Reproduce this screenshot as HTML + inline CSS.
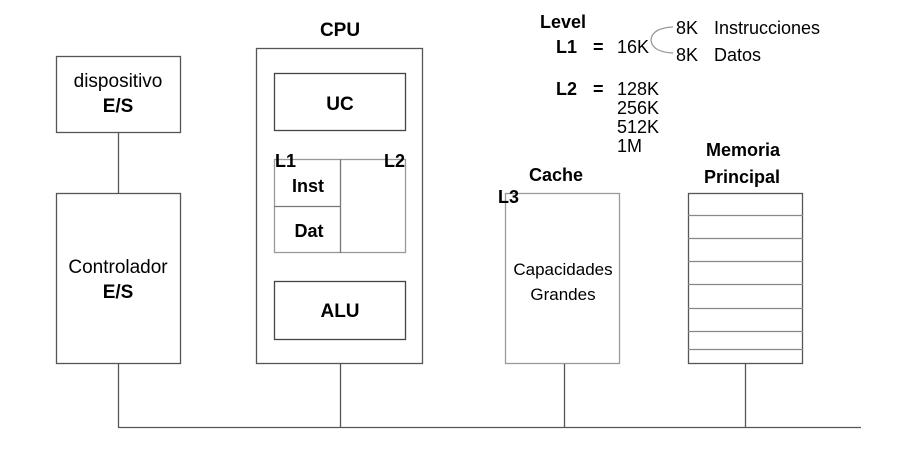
<!DOCTYPE html>
<html><head><meta charset="utf-8"><style>
html,body{margin:0;padding:0;background:#fff;width:918px;height:460px;overflow:hidden}
svg{display:block}
text{font-family:"Liberation Sans","DejaVu Sans",sans-serif;fill:#000}
.b{font-weight:bold}
</style></head><body>
<svg width="918" height="460" viewBox="0 0 918 460" xmlns="http://www.w3.org/2000/svg">
<g fill="none" stroke="#555" stroke-width="1.3">
<rect x="56.5" y="56.5" width="124" height="76"/>
<line x1="118.5" y1="133" x2="118.5" y2="193"/>
<rect x="56.5" y="193.5" width="124" height="170"/>
<line x1="118.5" y1="364" x2="118.5" y2="427.5"/>
<line x1="118" y1="427.5" x2="861" y2="427.5"/>
<rect x="256.5" y="48.5" width="166" height="315"/>
<rect x="274.5" y="73.5" width="131" height="57" stroke="#444"/>
<rect x="274.5" y="159.5" width="131" height="93" stroke="#999"/>
<line x1="340.5" y1="159" x2="340.5" y2="253" stroke="#777"/>
<line x1="274.5" y1="206.5" x2="340.5" y2="206.5" stroke="#777"/>
<rect x="274.5" y="281.5" width="131" height="58" stroke="#444"/>
<line x1="340.5" y1="364" x2="340.5" y2="427.5"/>
<rect x="505.5" y="193.5" width="114" height="170" stroke="#999"/>
<line x1="564.5" y1="364" x2="564.5" y2="427.5"/>
<rect x="688.5" y="193.5" width="114" height="170"/>
<g stroke="#888">
<line x1="688" y1="215.5" x2="803" y2="215.5"/>
<line x1="688" y1="238.5" x2="803" y2="238.5"/>
<line x1="688" y1="261.5" x2="803" y2="261.5"/>
<line x1="688" y1="284.5" x2="803" y2="284.5"/>
<line x1="688" y1="308.5" x2="803" y2="308.5"/>
<line x1="688" y1="331.5" x2="803" y2="331.5"/>
<line x1="688" y1="349.5" x2="803" y2="349.5"/>
</g>
<line x1="745.5" y1="364" x2="745.5" y2="427.5"/>
<path d="M673 27 Q652 28 651 40 Q652 52 673 53" stroke="#999"/>
</g>
<g font-size="18">
<text x="118" y="87" text-anchor="middle" font-size="19">dispositivo</text>
<text x="118" y="112" text-anchor="middle" class="b" font-size="19">E/S</text>
<text x="118" y="273" text-anchor="middle" font-size="19">Controlador</text>
<text x="118" y="298" text-anchor="middle" class="b" font-size="19">E/S</text>
<text x="340" y="36" text-anchor="middle" class="b" font-size="19">CPU</text>
<text x="340" y="110" text-anchor="middle" class="b" font-size="19">UC</text>
<text x="275" y="167" class="b">L1</text>
<text x="384" y="167" class="b">L2</text>
<text x="308" y="192" text-anchor="middle" class="b">Inst</text>
<text x="309" y="237" text-anchor="middle" class="b">Dat</text>
<text x="340" y="317" text-anchor="middle" class="b" font-size="19">ALU</text>
<text x="556" y="181" text-anchor="middle" class="b">Cache</text>
<text x="498" y="203" class="b">L3</text>
<text x="563" y="275" text-anchor="middle" font-size="17">Capacidades</text>
<text x="563" y="300" text-anchor="middle" font-size="17">Grandes</text>
<text x="743" y="156" text-anchor="middle" class="b">Memoria</text>
<text x="742" y="183" text-anchor="middle" class="b">Principal</text>
<text x="540" y="28" class="b">Level</text>
<text x="556" y="53" class="b">L1</text>
<text x="593" y="53" class="b">=</text>
<text x="617" y="53">16K</text>
<text x="676" y="34">8K</text>
<text x="714" y="34">Instrucciones</text>
<text x="676" y="61">8K</text>
<text x="714" y="61">Datos</text>
<text x="556" y="95" class="b">L2</text>
<text x="593" y="95" class="b">=</text>
<text x="617" y="95">128K</text>
<text x="617" y="114">256K</text>
<text x="617" y="133">512K</text>
<text x="617" y="152">1M</text>
</g>
</svg>
</body></html>
